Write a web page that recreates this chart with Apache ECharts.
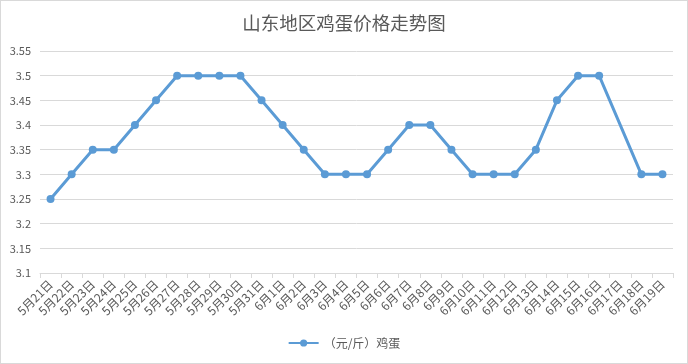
<!DOCTYPE html>
<html><head><meta charset="utf-8">
<script src="https://cdn.jsdelivr.net/npm/echarts@6/dist/echarts.min.js"></script>
<style>html,body{margin:0;padding:0;background:#fff}#c{width:686px;height:362px;border:1px solid #d9d9d9}</style>
</head><body><div id="c"></div>
<script>
const categories = ['5月21日','5月22日','5月23日','5月24日','5月25日','5月26日','5月27日','5月28日','5月29日','5月30日','5月31日','6月1日','6月2日','6月3日','6月4日','6月5日','6月6日','6月7日','6月8日','6月9日','6月10日','6月11日','6月12日','6月13日','6月14日','6月15日','6月16日','6月17日','6月18日','6月19日'];
const eggPrice = [3.25,3.3,3.35,3.35,3.4,3.45,3.5,3.5,3.5,3.5,3.45,3.4,3.35,3.3,3.3,3.3,3.35,3.4,3.4,3.35,3.3,3.3,3.3,3.35,3.45,3.5,3.5,null,3.3,3.3];
const seriesName = '（元/斤）鸡蛋';
const titleText = '山东地区鸡蛋价格走势图';
const chart = echarts.init(document.getElementById('c'));
const font = '"Microsoft YaHei","Noto Sans CJK SC",sans-serif';
chart.setOption({
  animation:false,
  title:{text:titleText,left:'center',top:8,textStyle:{color:'#595959',fontSize:18.5,fontWeight:'normal',fontFamily:font}},
  grid:{left:39,right:14,top:50,bottom:90},
  legend:{bottom:9,left:'center',itemWidth:30,itemHeight:9,textStyle:{color:'#595959',fontSize:12,fontFamily:font},data:[seriesName]},
  xAxis:{type:'category',data:categories,boundaryGap:true,
    axisLine:{lineStyle:{color:'#d9d9d9'}},
    axisTick:{show:true,lineStyle:{color:'#d9d9d9'},length:5},
    axisLabel:{rotate:45,interval:0,color:'#595959',fontSize:12,fontFamily:font,margin:9}},
  yAxis:{type:'value',min:3.1,max:3.55,interval:0.05,
    axisLine:{show:false},axisTick:{show:false},
    splitLine:{lineStyle:{color:'#d9d9d9'}},
    axisLabel:{color:'#595959',fontSize:11,fontFamily:font,margin:9,formatter:v=>String(+v.toFixed(2))}},
  series:[{name:seriesName,type:'line',data:eggPrice,connectNulls:true,
    symbol:'circle',symbolSize:8,
    lineStyle:{color:'#5b9bd5',width:3},
    itemStyle:{color:'#5b9bd5'}}]
});
</script></body></html>
